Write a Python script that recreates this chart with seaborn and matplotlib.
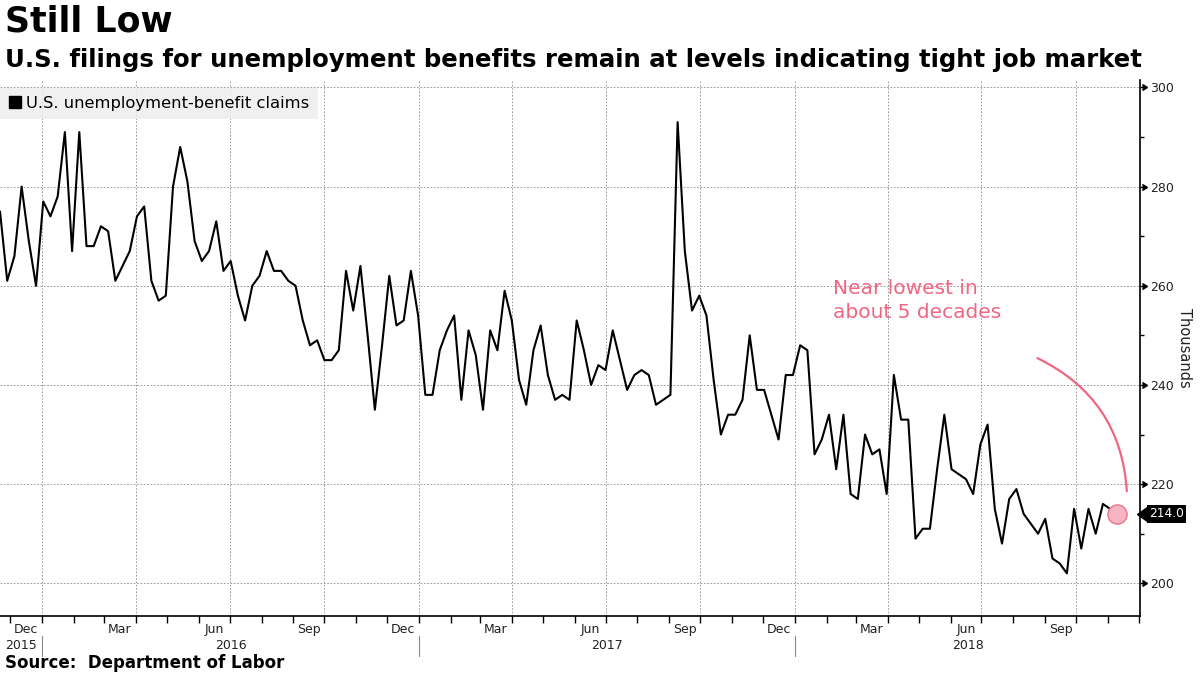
import pandas as pd
import matplotlib
matplotlib.use("Agg")
import matplotlib.pyplot as plt
import matplotlib.dates as mdates
from matplotlib.lines import Line2D
from matplotlib.ticker import MultipleLocator, NullFormatter
import seaborn as sns

# Weekly initial jobless claims (thousands)
first_week = "2015-11-21"
claims = [
    275, 261, 266, 280, 269, 260, 277, 274, 278, 291,
    267, 291, 268, 268, 272, 271, 261, 264, 267, 274,
    276, 261, 257, 258, 280, 288, 281, 269, 265, 267,
    273, 263, 265, 258, 253, 260, 262, 267, 263, 263,
    261, 260, 253, 248, 249, 245, 245, 247, 263, 255,
    264, 250, 235, 248, 262, 252, 253, 263, 254, 238,
    238, 247, 251, 254, 237, 251, 246, 235, 251, 247,
    259, 253, 241, 236, 247, 252, 242, 237, 238, 237,
    253, 247, 240, 244, 243, 251, 245, 239, 242, 243,
    242, 236, 237, 238, 293, 267, 255, 258, 254, 241,
    230, 234, 234, 237, 250, 239, 239, 234, 229, 242,
    242, 248, 247, 226, 229, 234, 223, 234, 218, 217,
    230, 226, 227, 218, 242, 233, 233, 209, 211, 211,
    223, 234, 223, 222, 221, 218, 228, 232, 215, 208,
    217, 219, 214, 212, 210, 213, 205, 204, 202, 215,
    207, 215, 210, 216, 215, 214,
]
weeks = pd.date_range(first_week, periods=len(claims), freq="7D")

series_name = "U.S. unemployment-benefit claims"
y_ticks = [200, 220, 240, 260, 280, 300]
years = [2015, 2016, 2017, 2018]

pink = "#ef6682"

sns.set_style("white")
plt.rcParams["font.family"] = ["DejaVu Sans"]
plt.rcParams["text.color"] = "black"

fig = plt.figure(figsize=(12, 6.75), dpi=100)
ax = fig.add_axes([0.0, 1 - 616 / 675, 1140 / 1200, 536 / 675])

sns.lineplot(x=weeks, y=claims, color="black", lw=1.5, ax=ax)
ax.set_xlabel("")

x_start = weeks[0]
x_end = weeks[0] + pd.Timedelta(days=1107)
ax.set_xlim(x_start, x_end)
ax.set_ylim(193.4, 301.5)

# spines
for s in ["top", "left"]:
    ax.spines[s].set_visible(False)
for s in ["bottom", "right"]:
    ax.spines[s].set_color("black")
    ax.spines[s].set_linewidth(1.2)

# y axis on the right
ax.yaxis.tick_right()
ax.set_yticks(y_ticks)
ax.yaxis.set_minor_locator(MultipleLocator(10))
ax.tick_params(axis="y", which="major", length=3, width=1, pad=4,
               labelsize=9, labelcolor="#222222", color="black")
ax.tick_params(axis="y", which="minor", length=3, width=1, color="black")
ax.plot([1 + 2 / 1140] * len(y_ticks), y_ticks, ls="none", marker=9, ms=5,
        color="black", transform=ax.get_yaxis_transform(), clip_on=False)
ax.yaxis.set_label_position("right")
ax.set_ylabel("Thousands", rotation=270, fontsize=10.5, color="#222222")
ax.yaxis.set_label_coords(1.046, 0.5)

# x axis: gridlines at quarter starts, ticks every month
ax.xaxis.set_major_locator(mdates.MonthLocator(bymonth=[1, 4, 7, 10]))
ax.xaxis.set_minor_locator(mdates.MonthLocator())
ax.xaxis.set_major_formatter(NullFormatter())
ax.xaxis.set_minor_formatter(NullFormatter())
ax.tick_params(axis="x", which="both", length=5, width=1, color="black",
               bottom=True)

ax.grid(True, which="major", axis="both", linestyle=(0, (2, 2)),
        color="#8c8c8c", lw=0.6)

xt = ax.get_xaxis_transform()
label_months = pd.date_range("2015-12-01", "2018-09-01", freq="3MS")
for m in label_months:
    ax.text(m + pd.Timedelta(days=15), -0.025, m.strftime("%b"), transform=xt,
            ha="center", va="center", fontsize=9, color="#222222")
for yr in years:
    lo = max(pd.Timestamp(f"{yr}-01-01"), x_start)
    hi = min(pd.Timestamp(f"{yr + 1}-01-01"), x_end)
    ax.text(lo + (hi - lo) / 2, -0.055, str(yr), transform=xt,
            ha="center", va="center", fontsize=9, color="#222222")
    if yr > years[0]:
        ax.axvline(pd.Timestamp(f"{yr}-01-01"), ymin=-0.074, ymax=-0.037,
                   color="#888888", lw=0.8, clip_on=False)

# legend
handle = Line2D([], [], marker="s", color="black", ls="none", markersize=9)
leg = ax.legend([handle], [series_name], loc="upper left",
                bbox_to_anchor=(0, 1 - 8 / 536), borderaxespad=0,
                frameon=True, fancybox=False, facecolor="#eeeeee",
                edgecolor="none", framealpha=0.85, fontsize=11.8,
                handlelength=0.8, handletextpad=0.3, borderpad=0.5)

# last value marker and tag
ax.scatter([weeks[-1]], [claims[-1]], s=190, color="#f7b5c2",
           edgecolor="#e8758d", lw=1, zorder=5)
ax.annotate(f"{claims[-1]:.1f}", xy=(1.0, claims[-1]),
            xycoords=("axes fraction", "data"), xytext=(6.5, 0),
            textcoords="offset points", ha="left", va="center",
            fontsize=8.8, color="white", annotation_clip=False,
            bbox=dict(boxstyle="square,pad=0.2", fc="black", ec="none"))
ax.plot([1 + 7 / 1140], [claims[-1]], ls="none", marker=8, ms=10,
        color="black", transform=ax.get_yaxis_transform(), clip_on=False)

# annotation
ax.text(833 / 1140, (616 - 279) / 536, "Near lowest in\nabout 5 decades",
        transform=ax.transAxes, ha="left", va="top", fontsize=14.5,
        color=pink, linespacing=1.3)
ax.annotate("", xy=(1127 / 1140, (616 - 494) / 536),
            xytext=(1035 / 1140, (616 - 357) / 536),
            xycoords="axes fraction", textcoords="axes fraction",
            arrowprops=dict(arrowstyle="-", color=pink, lw=1.6,
                            connectionstyle="arc3,rad=-0.3"))

# titles and source
fig.text(0.004, 1 - 22 / 675, "Still Low", fontsize=25, weight="bold",
         va="center", ha="left")
fig.text(0.004, 1 - 60 / 675,
         "U.S. filings for unemployment benefits remain at levels indicating tight job market",
         fontsize=17.6, weight="bold", va="center", ha="left")
fig.text(0.004, 1 - 663 / 675, "Source:  Department of Labor", fontsize=12,
         weight="bold", va="center", ha="left")

fig.savefig("out.png", dpi=100)
